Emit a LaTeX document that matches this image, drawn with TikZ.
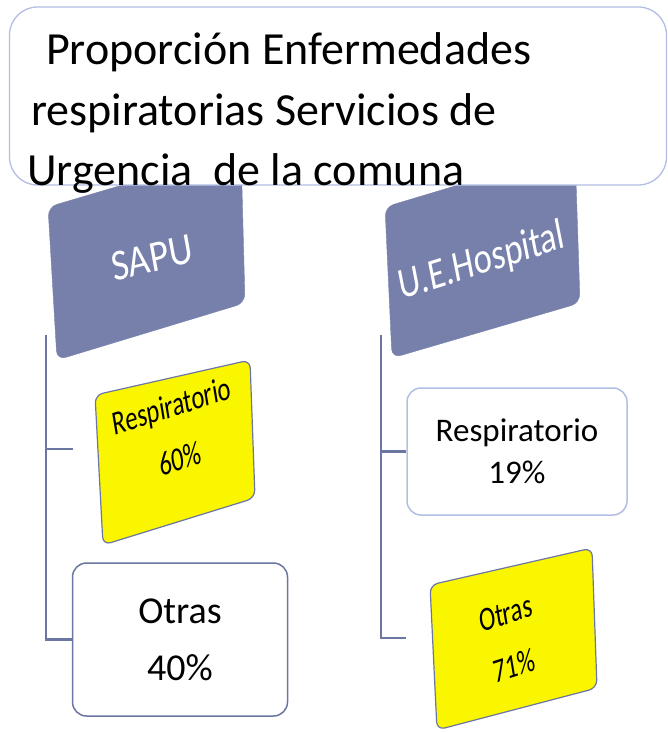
\documentclass[tikz,border=0pt]{standalone}
\usepackage{fontspec}
\setmainfont{Carlito}
\usepackage{xcolor}
\definecolor{pizarra}{RGB}{118,128,170}
\definecolor{borde}{RGB}{108,118,162}
\definecolor{bordeclaro}{RGB}{178,190,228}
\definecolor{amarillo}{RGB}{250,246,0}
\tikzset{cab/.style={fill=pizarra,draw=pizarra,rounded corners=9pt},
  ama/.style={fill=amarillo,draw=borde,line width=1.2pt,rounded corners=8pt},
  marco/.style={rectangle,draw=bordeclaro,line width=1.3pt,fill=white,rounded corners=28pt,minimum width=657pt,minimum height=178pt},
  titulo/.style={anchor=base west,inner sep=0pt,font=\fontsize{46}{60}\selectfont},
  txtcab/.style={text=white,inner sep=0pt,font=\fontsize{44}{50}\selectfont},
  txtama/.style={align=center,inner sep=0pt,font=\fontsize{34}{54}\selectfont},
  blanca/.style={rectangle,draw=borde,line width=1.5pt,fill=white,rounded corners=14pt,align=center,inner sep=0pt},
  linea/.style={draw=borde,line width=2.2pt}}

\begin{document}
\begin{tikzpicture}[x=1pt,y=-1pt]
    \useasboundingbox (0,0) rectangle (668,733);

    \draw[cab] (48,207) -- (241,150) -- (245,303) -- (57,360) -- cycle;
    \draw[cab] (385,207) -- (575,150) -- (580,303) -- (392,358) -- cycle;

    \node[marco] (marco) at (338,96) {};
    \node[titulo] (lin1) at (46,65) {Proporción Enfermedades};
    \node[titulo] (lin2) at (31,125) {respiratorias Servicios de};
    \node[titulo] (lin3) at (27,185) {Urgencia\ \ de la comuna};

    \node[txtcab,xscale=0.85,rotate=12] (sapu) at (152,258) {SAPU};
    \node[txtcab,xscale=0.78,rotate=14] (hosp) at (482,262) {U.E.Hospital};

    \coordinate (sapu-raiz) at (46,335);
    \coordinate (hosp-raiz) at (381,335);
    \coordinate (resp60-in) at (73,449);
    \coordinate (otras71-in) at (406,638);

    \draw[ama] (95,395) -- (250,360) -- (255,498) -- (103,545) -- cycle;
    \node[txtama,xscale=0.72,rotate=13] (resp60) at (176,432) {Respiratorio\\60\%};
    \draw[ama] (430,585) -- (592,548) -- (597,688) -- (437,730) -- cycle;
    \node[txtama,xscale=0.72,rotate=13] (otras71) at (510,640) {Otras\\71\%};

    \node[blanca,minimum width=215pt,minimum height=153pt,font=\fontsize{38}{57}\selectfont] (otras40) at (180,639.5) {Otras\\40\%};
    \node[blanca,draw=bordeclaro,minimum width=220pt,minimum height=127pt,font=\fontsize{33}{42}\selectfont] (resp19) at (517,451.5) {Respiratorio\\19\%};

    \draw[linea] (sapu-raiz) |- (resp60-in);
    \draw[linea] (sapu-raiz) |- (otras40.west);
    \draw[linea] (hosp-raiz) |- (resp19.west);
    \draw[linea] (hosp-raiz) |- (otras71-in);
\end{tikzpicture}
\end{document}
